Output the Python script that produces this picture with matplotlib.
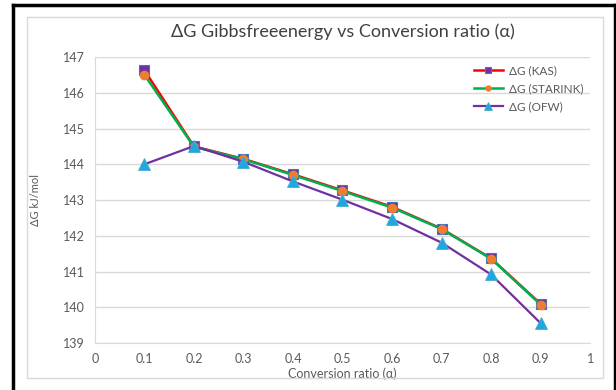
import matplotlib
matplotlib.use("Agg")
import matplotlib.pyplot as plt
from matplotlib.patches import Rectangle
from matplotlib.lines import Line2D

alpha = [0.1, 0.2, 0.3, 0.4, 0.5, 0.6, 0.7, 0.8, 0.9]
dg_kas = [146.63, 144.50, 144.15, 143.72, 143.27, 142.81, 142.20, 141.37, 140.10]
dg_starink = [146.50, 144.49, 144.14, 143.70, 143.25, 142.79, 142.19, 141.36, 140.08]
dg_ofw = [144.00, 144.51, 144.07, 143.52, 143.01, 142.47, 141.81, 140.92, 139.56]

x_ticks = [0, 0.1, 0.2, 0.3, 0.4, 0.5, 0.6, 0.7, 0.8, 0.9, 1]
x_ticklabels = ["0", "0.1", "0.2", "0.3", "0.4", "0.5", "0.6", "0.7", "0.8", "0.9", "1"]
y_ticks = [139, 140, 141, 142, 143, 144, 145, 146, 147]

plt.rcParams['font.family'] = ['Lato', 'DejaVu Sans']
text_col = '#595959'

fig = plt.figure(figsize=(6.16, 3.9), dpi=100)
ax = fig.add_axes([0.154, 0.12, 0.804, 0.734])

ax.plot(alpha, dg_kas, color='#FF0000', lw=1.8, marker='s', ms=7,
        mfc='#7030A0', mec='#4472C4', mew=0.8, label='ΔG (KAS)', zorder=3)
ax.plot(alpha, dg_starink, color='#00B050', lw=1.8, marker='o', ms=6,
        mfc='#ED7D31', mec='#ED7D31', label='ΔG (STARINK)', zorder=4)
ax.plot(alpha, dg_ofw, color='#7030A0', lw=1.6, marker='^', ms=8.5,
        mfc='#1EA8E0', mec='#4BACC6', mew=0.6, label='ΔG (OFW)', zorder=5)

ax.set_xlim(0, 1)
ax.set_ylim(139, 147)
ax.set_xticks(x_ticks)
ax.set_xticklabels(x_ticklabels)
ax.set_yticks(y_ticks)
ax.tick_params(length=0, labelsize=9, colors=text_col, pad=7)
ax.grid(axis='y', color='#D9D9D9', lw=1)
ax.set_axisbelow(True)
for side in ['top', 'right']:
    ax.spines[side].set_visible(False)
for side in ['left', 'bottom']:
    ax.spines[side].set_color('#D9D9D9')

ax.set_title('ΔG Gibbsfreeenergy vs Conversion ratio (α)', fontsize=13,
             color='#404040', pad=14)
ax.set_xlabel('Conversion ratio (α)', fontsize=9, color=text_col, labelpad=2)
ax.set_ylabel('ΔG kJ/mol', fontsize=8, color=text_col, labelpad=16)

leg = ax.legend(loc='upper right', bbox_to_anchor=(1.0, 0.995), frameon=False,
                fontsize=8.5, handlelength=2.4, handletextpad=0.5,
                labelspacing=0.6, borderaxespad=0.2, markerscale=0.6)
for t in leg.get_texts():
    t.set_color(text_col)

# chart frame and page border
fig.add_artist(Rectangle((27 / 616, 1 - 378 / 390), 576 / 616, 361 / 390,
                         transform=fig.transFigure, fill=False,
                         ec='#D9D9D9', lw=1))
fig.add_artist(Line2D([13 / 616, 13 / 616], [0, 1 - 5 / 390],
                      transform=fig.transFigure, color='black', lw=2.5))
fig.add_artist(Line2D([13 / 616, 615 / 616], [1 - 5 / 390, 1 - 5 / 390],
                      transform=fig.transFigure, color='black', lw=2.5))
fig.add_artist(Line2D([615 / 616, 615 / 616], [0, 1 - 5 / 390],
                      transform=fig.transFigure, color='black', lw=2.5))

fig.savefig('out.png', dpi=100)
